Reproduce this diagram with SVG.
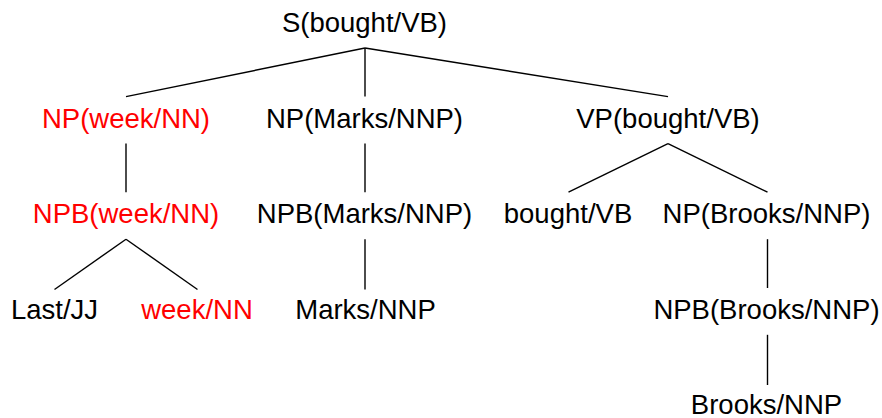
<svg xmlns="http://www.w3.org/2000/svg" width="882" height="418" viewBox="0 0 882 418">
<style>
text{font-family:"Liberation Sans",Arial,sans-serif;font-size:27.5px;text-anchor:middle;fill:#000}
.red{fill:#ff0000}
.edges line{stroke:#000;stroke-width:1.4}
</style>
<rect width="882" height="418" fill="#fff"/>
<g class="edges" id="connectors">
<line x1="365" y1="48" x2="126" y2="96.6"/>
<line x1="365" y1="48" x2="365" y2="96.6"/>
<line x1="365" y1="48" x2="668" y2="96.6"/>
<line x1="126" y1="143.6" x2="126" y2="192.2"/>
<line x1="365" y1="143.6" x2="365" y2="192.2"/>
<line x1="668" y1="143.6" x2="568.5" y2="192.2"/>
<line x1="668" y1="143.6" x2="767.5" y2="192.2"/>
<line x1="126" y1="239.2" x2="54.5" y2="289.5"/>
<line x1="126" y1="239.2" x2="197.5" y2="289.5"/>
<line x1="365" y1="239.2" x2="365" y2="289.5"/>
<line x1="767.5" y1="239.2" x2="767.5" y2="288"/>
<line x1="767.5" y1="334.8" x2="767.5" y2="385"/>
</g>
<g id="S"><text x="364.5" y="32">S(bought/VB)</text></g>
<g id="NP-week"><text class="red" x="126" y="127.6">NP(week/NN)</text></g>
<g id="NP-Marks"><text x="364.5" y="127.6">NP(Marks/NNP)</text></g>
<g id="VP"><text x="668" y="127.6">VP(bought/VB)</text></g>
<g id="NPB-week"><text class="red" x="126" y="223.2">NPB(week/NN)</text></g>
<g id="NPB-Marks"><text x="364.5" y="223.2">NPB(Marks/NNP)</text></g>
<g id="bought-VB"><text x="568" y="223.2">bought/VB</text></g>
<g id="NP-Brooks"><text x="766.5" y="223.2">NP(Brooks/NNP)</text></g>
<g id="Last-JJ"><text x="54.5" y="318.8">Last/JJ</text></g>
<g id="week-NN"><text class="red" x="197" y="318.8">week/NN</text></g>
<g id="Marks-NNP"><text x="365.5" y="318.8">Marks/NNP</text></g>
<g id="NPB-Brooks"><text x="766.5" y="318.8">NPB(Brooks/NNP)</text></g>
<g id="Brooks-NNP"><text x="766.5" y="413.5">Brooks/NNP</text></g>
</svg>
